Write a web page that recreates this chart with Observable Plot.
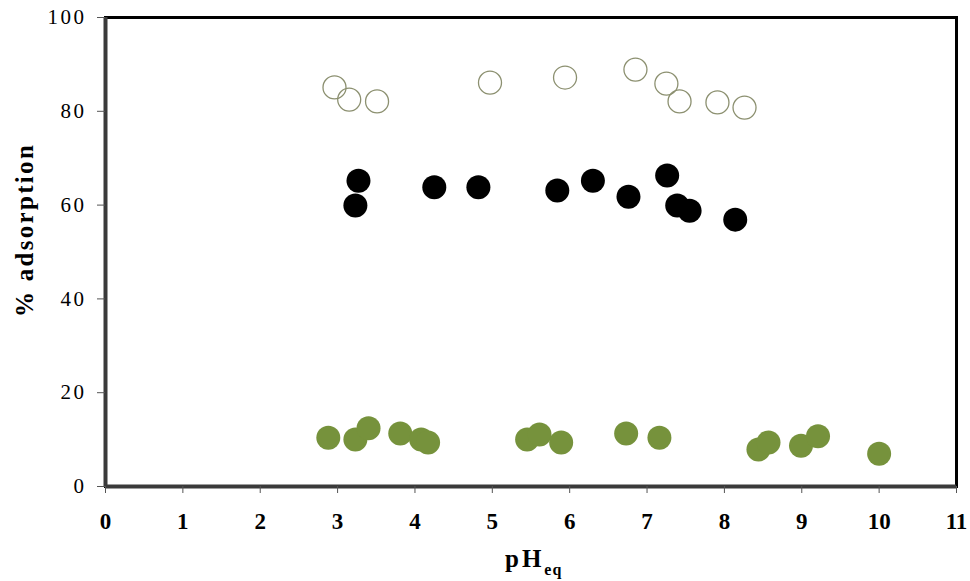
<!DOCTYPE html>
<html><head><meta charset="utf-8">
<script src="https://cdn.jsdelivr.net/npm/d3@7"></script>
<script src="https://cdn.jsdelivr.net/npm/@observablehq/plot@0.6"></script>
<style>
body{margin:0;background:#fff}
#chart{position:relative;width:970px;height:581px}
#chart g[aria-label="y-axis tick label"] text{letter-spacing:2.5px}
</style>
</head><body><div id="chart"></div>
<script>
// Open circles (upper series)
const openPH = [2.96, 3.15, 3.51, 4.97, 5.94, 6.85, 7.25, 7.42, 7.91, 8.26];
const openAds = [85.1, 82.5, 82.1, 86.1, 87.2, 88.9, 85.9, 82.1, 81.9, 80.8];
// Black filled circles (middle series)
const blackPH = [3.27, 3.23, 4.25, 4.82, 5.84, 6.30, 6.76, 7.26, 7.39, 7.55, 8.14];
const blackAds = [65.2, 59.9, 63.8, 63.8, 63.1, 65.2, 61.8, 66.3, 59.9, 58.8, 56.9];
// Green filled circles (lower series)
const greenPH = [2.88, 3.23, 3.40, 3.81, 4.08, 4.17, 5.45, 5.61, 5.89, 6.73, 7.16, 8.44, 8.57, 8.99, 9.21, 10.0];
const greenAds = [10.4, 10.0, 12.4, 11.3, 10.0, 9.4, 10.0, 11.1, 9.4, 11.3, 10.4, 7.9, 9.4, 8.7, 10.7, 7.0];

const xTicks = [0,1,2,3,4,5,6,7,8,9,10,11];
const yTicks = [0,20,40,60,80,100];
const yLabel = "% adsorption";
const xLabelMain = "pH";
const xLabelSub = "eq";

const toRows = (xs, ys) => xs.map((x, i) => ({x, y: ys[i]}));
const openData = toRows(openPH, openAds);
const blackData = toRows(blackPH, blackAds);
const greenData = toRows(greenPH, greenAds);

const plot = Plot.plot({
  width: 970, height: 581,
  marginLeft: 105, marginRight: 14, marginTop: 17, marginBottom: 95,
  x: {domain: [0, 11]},
  y: {domain: [0, 100]},
  style: {fontFamily: "'Liberation Serif', 'DejaVu Serif', serif", background: "#fff", color: "#000"},
  marks: [
    Plot.frame({stroke: "#000", strokeWidth: 3}),
    Plot.ruleX([0], {stroke: "#3a3a3a", strokeWidth: 4}),
    Plot.ruleY([0], {stroke: "#3a3a3a", strokeWidth: 4}),
    Plot.axisX({ticks: xTicks, tickSize: 7, tickPadding: 19, fontSize: 23, fontWeight: "bold", label: null, stroke: "#555"}),
    Plot.axisY({ticks: yTicks, tickSize: 8, tickPadding: 11, fontSize: 21, label: null, stroke: "#555"}),
    Plot.dot(openData, {x: "x", y: "y", r: 11.5, fill: "none", stroke: "#8c9070", strokeWidth: 1.3}),
    Plot.dot(blackData, {x: "x", y: "y", r: 12, fill: "#000"}),
    Plot.dot(greenData, {x: "x", y: "y", r: 12, fill: "#76923c"})
  ]
});
document.getElementById("chart").appendChild(plot);

const svg = d3.select(plot);
// y axis title
svg.append("text")
  .attr("transform", "translate(33,230) rotate(-90)")
  .attr("text-anchor", "middle")
  .attr("font-family", "'Liberation Serif', serif")
  .attr("font-weight", "bold")
  .attr("font-size", 25)
  .attr("letter-spacing", 2.3)
  .attr("fill", "#000")
  .text(yLabel);
// x axis title with subscript
const xt = svg.append("text")
  .attr("x", 505).attr("y", 567)
  .attr("text-anchor", "start")
  .attr("font-family", "'Liberation Serif', serif")
  .attr("font-weight", "bold")
  .attr("fill", "#000");
xt.append("tspan").attr("font-size", 25).attr("letter-spacing", 3).text(xLabelMain);
xt.append("tspan").attr("font-size", 16).attr("dy", 8).attr("letter-spacing", 1).text(xLabelSub);
</script>
</body></html>
